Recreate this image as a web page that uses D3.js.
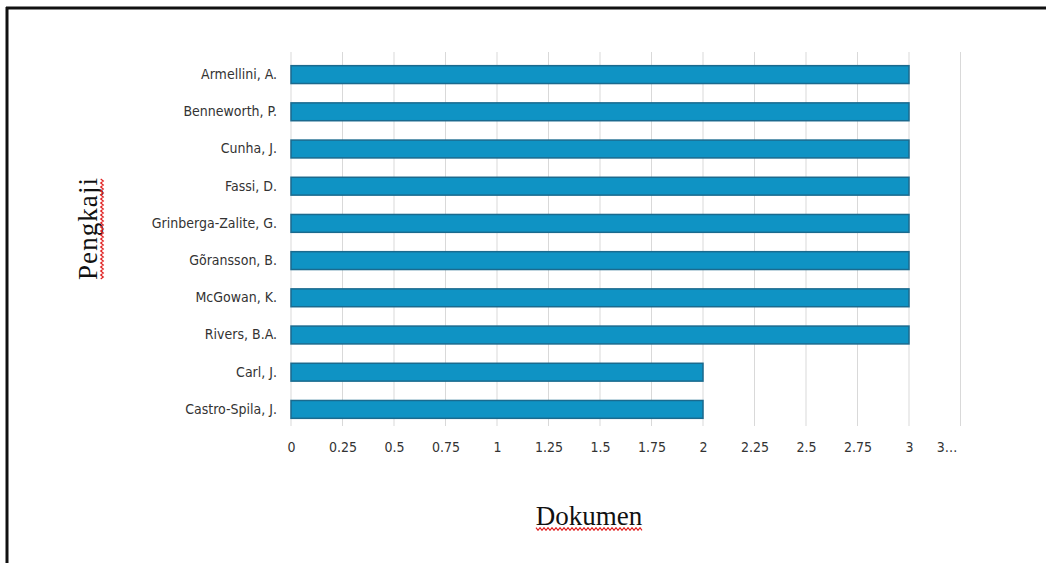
<!DOCTYPE html>
<html lang="id">
<head>
  <meta charset="UTF-8" />
  <title>Pengkaji - Dokumen</title>
  <script src="https://d3js.org/d3.v7.min.js"></script>
  <style>
    body {
      margin: 0;
      background: #fff;
      overflow: hidden;
    }
    .tick text {
      font-family: "DejaVu Sans Condensed", "DejaVu Sans", sans-serif;
      font-stretch: condensed;
      font-size: 14px;
      fill: #333;
    }
    .grid line {
      stroke: #d9d9d9;
      stroke-width: 1px;
    }
    .bar {
      fill: #0f93c4;
      stroke: #1b6a8e;
      stroke-width: 1.5px;
    }
    .title {
      font-family: "Liberation Serif", "Times New Roman", serif;
      font-size: 27px;
      fill: #111;
    }
    .squiggle {
      fill: none;
      stroke: #e02020;
      stroke-width: 1.2px;
    }
  </style>
</head>
<body>
  <script>
    // Authors and number of documents
    const authors = [
      "Armellini, A.", "Benneworth, P.", "Cunha, J.", "Fassi, D.",
      "Grinberga-Zalite, G.", "Gõransson, B.", "McGowan, K.", "Rivers, B.A.",
      "Carl, J.", "Castro-Spila, J."
    ];
    const documents = [3, 3, 3, 3, 3, 3, 3, 3, 2, 2];
    const xTicks = [0, 0.25, 0.5, 0.75, 1, 1.25, 1.5, 1.75, 2, 2.25, 2.5, 2.75, 3, 3.25];
    const xTickLabels = ["0", "0.25", "0.5", "0.75", "1", "1.25", "1.5", "1.75",
      "2", "2.25", "2.5", "2.75", "3", "3…"];

    const width = 1046, height = 563;
    const plot = { left: 291, right: 909, top: 56, bottom: 428 };

    const svg = d3.select("body").append("svg")
      .attr("width", width)
      .attr("height", height);

    // Frame (only top and left edges visible)
    svg.append("line")
      .attr("x1", 6).attr("x2", width).attr("y1", 8).attr("y2", 8)
      .attr("stroke", "#111").attr("stroke-width", 3);
    svg.append("line")
      .attr("x1", 7).attr("x2", 7).attr("y1", 7).attr("y2", height)
      .attr("stroke", "#111").attr("stroke-width", 3);

    const x = d3.scaleLinear().domain([0, 3]).range([plot.left, plot.right]);
    const y = d3.scaleBand().domain(authors).range([plot.top, plot.bottom])
      .paddingInner(0.52).paddingOuter(0.26);

    // Vertical gridlines
    svg.append("g")
      .attr("class", "grid")
      .selectAll("line")
      .data(xTicks)
      .join("line")
      .attr("x1", d => x(d)).attr("x2", d => x(d))
      .attr("y1", 52).attr("y2", 426);

    // Bars
    svg.append("g")
      .selectAll("rect")
      .data(authors)
      .join("rect")
      .attr("class", "bar")
      .attr("x", x(0))
      .attr("y", d => y(d))
      .attr("width", (d, i) => x(documents[i]) - x(0))
      .attr("height", y.bandwidth());

    // X axis labels
    const xAxis = d3.axisBottom(x)
      .tickValues(xTicks)
      .tickSize(0)
      .tickPadding(14)
      .tickFormat((d, i) => xTickLabels[i]);
    const gx = svg.append("g")
      .attr("transform", `translate(0,${plot.bottom})`)
      .call(xAxis);
    gx.select(".domain").remove();
    gx.selectAll(".tick text")
      .filter((d, i) => i === xTicks.length - 1)
      .attr("dx", -14);

    // Y axis labels
    const yAxis = d3.axisLeft(y).tickSize(0).tickPadding(14);
    const gy = svg.append("g")
      .attr("transform", `translate(${plot.left},0)`)
      .call(yAxis);
    gy.select(".domain").remove();

    // Zigzag spell-check underline
    function squiggle(x0, x1, yy) {
      const pts = [];
      for (let px = x0, k = 0; px <= x1; px += 2, k++) {
        pts.push([px, yy + (k % 2 ? 1.3 : -1.3)]);
      }
      return d3.line()(pts);
    }

    // Axis titles
    svg.append("text")
      .attr("class", "title")
      .attr("x", 589)
      .attr("y", 525)
      .attr("text-anchor", "middle")
      .text("Dokumen");
    svg.append("path")
      .attr("class", "squiggle")
      .attr("d", squiggle(536, 643, 529));

    const py = svg.append("g")
      .attr("transform", "translate(97,229) rotate(-90)");
    py.append("text")
      .attr("class", "title")
      .attr("x", 0)
      .attr("y", 0)
      .attr("text-anchor", "middle")
      .attr("textLength", 102)
      .text("Pengkaji");
    py.append("path")
      .attr("class", "squiggle")
      .attr("d", squiggle(-50, 50, 5));
  </script>
</body>
</html>
